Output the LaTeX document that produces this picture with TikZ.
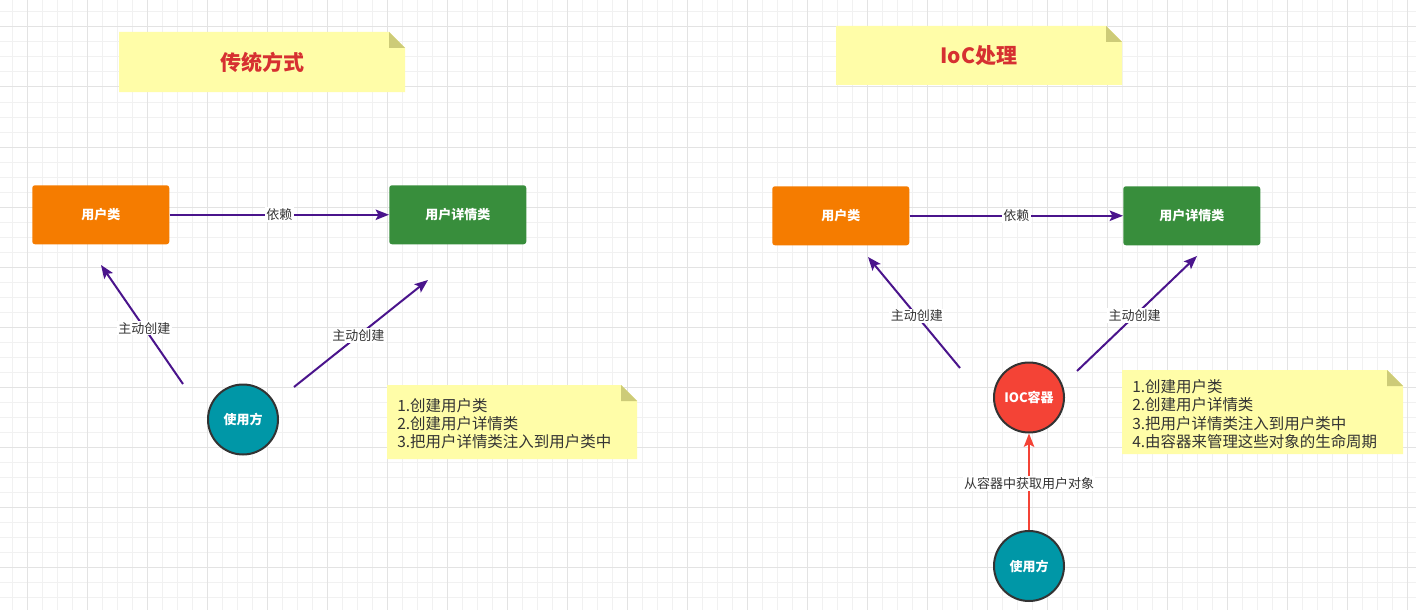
\documentclass[tikz,border=0pt]{standalone}
\usepackage{fontspec}
\setmainfont{Noto Sans CJK SC}
\usetikzlibrary{positioning,arrows.meta}
\definecolor{gridminor}{HTML}{F1F1F1}
\definecolor{gridmajor}{HTML}{E3E3E3}
\definecolor{noteyellow}{HTML}{FFFDA8}
\definecolor{notefold}{HTML}{CDCB78}
\definecolor{titlered}{HTML}{D63031}
\definecolor{boxorange}{HTML}{F57C00}
\definecolor{boxgreen}{HTML}{388E3C}
\definecolor{userteal}{HTML}{0097A7}
\definecolor{iocred}{HTML}{F44336}
\definecolor{linkpurple}{HTML}{4A148C}
\definecolor{textgray}{HTML}{333333}

\begin{document}
\begin{tikzpicture}[x=0.75pt, y=-0.75pt,
  classbox/.style={rounded corners=2pt, minimum width=102.75pt, minimum height=44.25pt,
                   inner sep=0, text=white, font=\fontsize{9.75}{11}\selectfont\bfseries, anchor=north west},
  actor/.style={circle, draw=textgray, line width=1.5pt, minimum size=52.5pt, inner sep=0,
                text=white, font=\fontsize{9.75}{11}\selectfont\bfseries},
  titletext/.style={text=titlered, font=\fontsize{15.75}{18}\selectfont\bfseries},
  notetext/.style={text=textgray, align=left, anchor=west, inner sep=0,
                   font=\fontsize{11.6}{13.7}\selectfont},
  lab/.style={fill=white, inner sep=1pt, text=textgray, font=\fontsize{9.75}{11}\selectfont},
  link/.style={-{Stealth[length=10pt, width=7.8pt, inset=2pt]}, line width=1.5pt, draw=linkpurple},
  fetch/.style={link, draw=iocred}]
\useasboundingbox (0,0) rectangle (1416,610);
\fill[white] (0,0) rectangle (1416,610);
% grid
\foreach \x in {12,27,...,1416} \draw[gridminor, line width=0.75pt] (\x,0) -- (\x,610);
\foreach \y in {12,27,...,610} \draw[gridminor, line width=0.75pt] (0,\y) -- (1416,\y);
\foreach \x in {27,87,...,1416} \draw[gridmajor, line width=0.75pt] (\x,0) -- (\x,610);
\foreach \y in {27,87,...,610} \draw[gridmajor, line width=0.75pt] (0,\y) -- (1416,\y);

% notes
\fill[noteyellow] (119,32) -- (389,32) -- (405,48) -- (405,92) -- (119,92) -- cycle;
\fill[notefold] (389,32) -- (389,48) -- (405,48) -- cycle;
\node[titletext] (title-old) at (262,62) {传统方式};
\fill[noteyellow] (836,26) -- (1106,26) -- (1122,42) -- (1122,85) -- (836,85) -- cycle;
\fill[notefold] (1106,26) -- (1106,42) -- (1122,42) -- cycle;
\node[titletext] (title-ioc) at (979,56) {IoC处理};
\fill[noteyellow] (387,385) -- (621,385) -- (637,401) -- (637,459) -- (387,459) -- cycle;
\fill[notefold] (621,385) -- (621,401) -- (637,401) -- cycle;
\node[notetext] (steps-old) at (397,423.5) {1.创建用户类\\2.创建用户详情类\\3.把用户详情类注入到用户类中};
\fill[noteyellow] (1122,370) -- (1387,370) -- (1403,386) -- (1403,454) -- (1122,454) -- cycle;
\fill[notefold] (1387,370) -- (1387,386) -- (1403,386) -- cycle;
\node[notetext] (steps-ioc) at (1132,414) {1.创建用户类\\2.创建用户详情类\\3.把用户详情类注入到用户类中\\4.由容器来管理这些对象的生命周期};

% traditional side
\node[classbox, fill=boxorange] (user-old) at (32,185) {用户类};
\node[classbox, fill=boxgreen] (detail-old) at (389,185) {用户详情类};
\node[actor, fill=userteal] (caller-old) at (243,419.5) {使用方};
\draw[link] (user-old) -- node[lab] {依赖} (detail-old);
\coordinate (mk-a1) at (183,384);
\coordinate (mk-b1) at (101,265);
\coordinate (mk-a2) at (294,387);
\coordinate (mk-b2) at (428,280);
\draw[link] (mk-a1) -- node[lab, pos=0.47] {主动创建} (mk-b1);
\draw[link] (mk-a2) -- node[lab, pos=0.48] {主动创建} (mk-b2);

% ioc side
\node[classbox, fill=boxorange] (user-ioc) at (772,186) {用户类};
\node[classbox, fill=boxgreen] (detail-ioc) at (1123,186) {用户详情类};
\node[actor, fill=iocred] (ioc) at (1029,397.5) {IOC容器};
\node[actor, fill=userteal] (caller-ioc) at (1029,566) {使用方};
\draw[link] (user-ioc) -- node[lab] {依赖} (detail-ioc);
\coordinate (mk-c1) at (960,368);
\coordinate (mk-d1) at (868,257);
\coordinate (mk-c2) at (1077,371);
\coordinate (mk-d2) at (1197,256);
\draw[link] (mk-c1) -- node[lab, pos=0.47] {主动创建} (mk-d1);
\draw[link] (mk-c2) -- node[lab, pos=0.48] {主动创建} (mk-d2);
\draw[fetch] (caller-ioc) -- node[lab, pos=0.48] {从容器中获取用户对象} (ioc);
\end{tikzpicture}
\end{document}
